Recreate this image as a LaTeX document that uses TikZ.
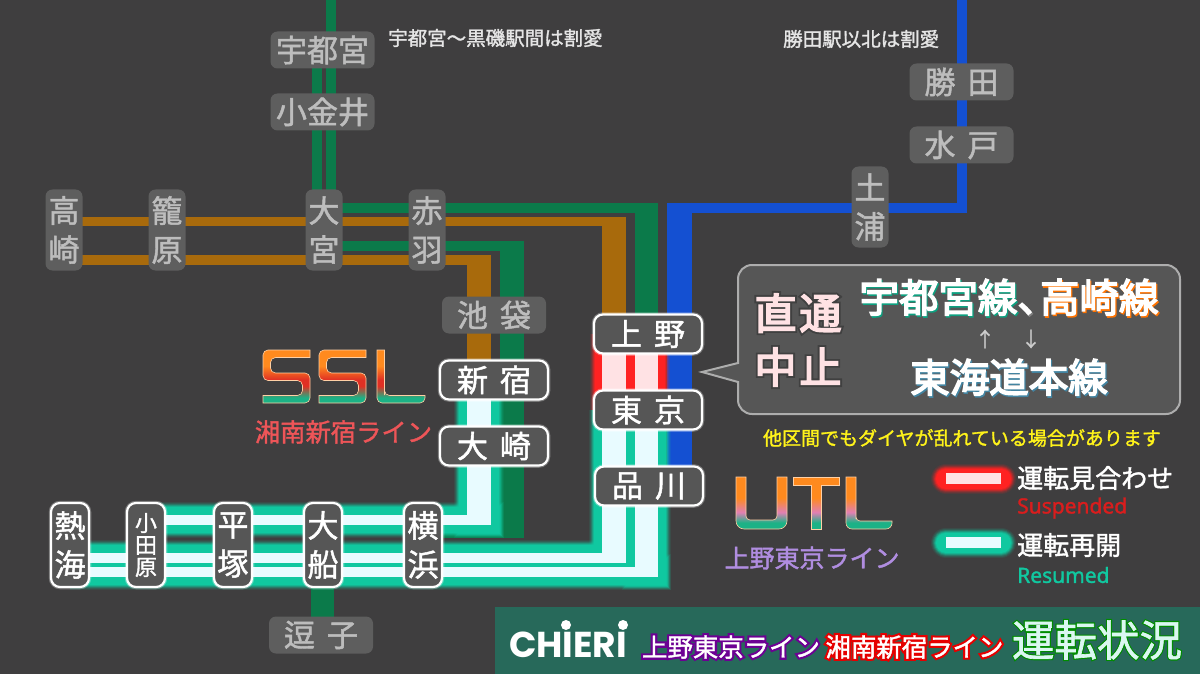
\documentclass[tikz,border=0pt]{standalone}
\usepackage{fontspec}
\setmainfont{Noto Sans CJK JP}[FakeBold=1.5]
\newfontfamily\headfont{Noto Sans CJK JP}[FakeBold=4]
\newfontfamily\latinfont{Noto Sans}[FakeBold=1.5]
\newfontfamily\logofont{Poppins}
\usetikzlibrary{calc}

\definecolor{bgdark}{HTML}{3F3E3F}
\definecolor{banner}{HTML}{27695A}
\definecolor{greenline}{HTML}{0B7A4A}
\definecolor{orangeline}{HTML}{A86A0C}
\definecolor{blueline}{HTML}{1450D2}
\definecolor{tealglow}{HTML}{10C8A0}
\definecolor{palecyan}{HTML}{E8FBFF}
\definecolor{redglow}{HTML}{FF2222}
\definecolor{palepink}{HTML}{FFE2E4}
\definecolor{stationon}{HTML}{565656}
\definecolor{stationoff}{HTML}{5E5E5E}
\definecolor{stationtext}{HTML}{BDBDBD}
\definecolor{logoorange}{HTML}{FF8A1E}
\definecolor{logored}{HTML}{E03024}
\definecolor{logogreen}{HTML}{1CB286}
\definecolor{logopink}{HTML}{E080B4}
\definecolor{sslcaption}{HTML}{EE5558}
\definecolor{utlcaption}{HTML}{B08DE0}

\pgfdeclarelayer{track}
\pgfsetlayers{track,main}

\pgfdeclareverticalshading{sslshade}{100bp}{
	color(0bp)=(logogreen); color(30bp)=(logogreen); color(41bp)=(logored); color(47bp)=(logored);
	color(60bp)=(logoorange); color(100bp)=(logoorange)}
\pgfdeclareverticalshading{utlshade}{100bp}{
	color(0bp)=(logogreen); color(31bp)=(logogreen); color(41bp)=(logopink);
	color(55bp)=(logoorange); color(100bp)=(logoorange)}

\tikzset{
	offstation/.style = {rectangle, fill = stationoff, text = stationtext, rounded corners = 7pt, inner sep = 0pt},
	onstation/.style = {rectangle, fill = stationon, text = white, draw = white, line width = 2.2pt, rounded corners = 9pt, inner sep = 0pt,
		preaction = {draw = white, opacity = 0.3, line width = 4.5pt}},
	widestop/.style = {minimum width = 104pt, minimum height = 37pt, font = \fontsize{31}{31}\selectfont},
	tallstop/.style = {minimum width = 37pt, minimum height = 81pt, align = center, font = \fontsize{31}{39}\selectfont},
	wideon/.style = {minimum width = 108pt, minimum height = 39pt, font = \fontsize{31}{31}\selectfont},
	tallon/.style = {minimum width = 38pt, minimum height = 84pt, align = center, font = \fontsize{31}{39}\selectfont},
	label/.style = {inner sep = 0pt, font = \fontsize{#1}{#1}\selectfont},
	ssllogo/.style = {shade, shading = sslshade, draw = white!60!logoorange, line width = 0.6pt},
	utllogo/.style = {shade, shading = utlshade, draw = white!60!logoorange, line width = 0.6pt},
}

% style, grow, start, corner, end, hwidth, vwidth, side
\newcommand{\bentline}[8]{
	\draw[#1, line width = #6pt + #2pt] (#3 |- #4) -- ([xshift = #7pt/2 + #2pt/2]#4);
	\draw[#1, line width = #7pt + #2pt] ([yshift = #8*(#6pt + #2pt)/2]#4) -- (#4 |- #5);
}
\newcommand{\glowbent}[7]{
	\foreach \gw/\go in {26/0.1, 24/0.15, 22/0.25, 20/0.4, 18/0.6, 16/1} {
		\bentline{#1, opacity = \go}{\gw}{#2}{#3}{#4}{#5}{#6}{#7}
	}
}
\newcommand{\dropsh}[2]{\leavevmode\rlap{\hspace{1.2pt}\raisebox{-1.6pt}{\textcolor{#1}{#2}}}#2}
\newcommand{\halo}[3]{\leavevmode\rlap{\fontspec{Noto Sans CJK JP}[FakeBold=#2]\textcolor{#1}{#3}}#3}

\begin{document}
\begin{tikzpicture}[x = 1pt, y = -1pt]

\useasboundingbox (0,0) rectangle (1200,674);

% stations out of service
\node[offstation, widestop] (utsunomiya) at (322.5, 50) {宇都宮};
\node[offstation, widestop] (koganei) at (322.5, 112) {小金井};
\node[offstation, tallstop] (takasaki) at (64, 230) {高\\崎};
\node[offstation, tallstop] (kagohara) at (167, 230) {籠\\原};
\node[offstation, tallstop] (omiya) at (324, 230) {大\\宮};
\node[offstation, tallstop] (akabane) at (427, 230) {赤\\羽};
\node[offstation, widestop] (ikebukuro) at (494, 315) {池\hspace{12pt}袋};
\node[offstation, widestop] (zushi) at (321, 635) {逗\hspace{12pt}子};
\node[offstation, widestop] (katsuta) at (961.5, 82) {勝\hspace{12pt}田};
\node[offstation, widestop] (mito) at (961.5, 145) {水\hspace{12pt}戸};
\node[offstation, tallstop] (tsuchiura) at (870, 207) {土\\浦};

% stations in service
\node[onstation, wideon] (shinjuku) at (494, 380) {新\hspace{12pt}宿};
\node[onstation, wideon] (osaki) at (494, 446) {大\hspace{12pt}崎};
\node[onstation, wideon] (ueno) at (648, 334) {上\hspace{12pt}野};
\node[onstation, wideon] (tokyo) at (648, 410) {東\hspace{12pt}京};
\node[onstation, wideon] (shinagawa) at (649, 486) {品\hspace{12pt}川};
\node[onstation, tallon] (atami) at (70, 545) {熱\\海};
\node[onstation, tallon, font = \fontsize{22}{22}\selectfont] (odawara) at (146, 545) {小\\田\\原};
\node[onstation, tallon] (hiratsuka) at (233, 545) {平\\塚};
\node[onstation, tallon] (ofuna) at (323, 545) {大\\船};
\node[onstation, tallon] (yokohama) at (423, 545) {横\\浜};

\coordinate (utsutop) at (331, 0);
\coordinate (utsutwo) at (317, 50);
\coordinate (bluetop) at (962, 0);
\coordinate (bluebend) at (962, 207.5);
\coordinate (bluedown) at (679.5, 207.5);
\coordinate (greenhigh) at (646.5, 208);
\coordinate (orangehigh) at (614, 221.5);
\coordinate (greenlow) at (512, 246);
\coordinate (greenfoot) at (512, 533);
\coordinate (orangelow) at (479, 260);
\coordinate (sslbend) at (479, 520);
\coordinate (utlbend) at (614, 558);
\coordinate (tkdbend) at (646.5, 572);
\coordinate (legsusa) at (946, 478.5);
\coordinate (legsusb) at (1001, 478.5);
\coordinate (legresa) at (946, 542.5);
\coordinate (legresb) at (1001, 542.5);

\begin{pgfonlayer}{track}
\fill[bgdark] (0,0) rectangle (1200,674);
\fill[banner] (495,607) rectangle (1200,674);

\draw[greenline, line width = 10pt] (utsutop) -- (utsutop |- omiya);
\draw[greenline, line width = 10pt] (utsutwo) -- (utsutwo |- omiya);
\draw[greenline, line width = 23pt] ([xshift = -0.5pt]ofuna.center) -- ([xshift = 1.5pt]zushi.center);

\draw[blueline, line width = 10pt] (bluetop) -- ([yshift = -5pt]bluebend);
\bentline{blueline}{0}{bluebend}{bluedown}{shinagawa}{10}{25}{1}
\draw[blueline, line width = 10pt] (bluebend) ++(5,0) -- (bluebend);

\bentline{greenline}{0}{omiya}{greenhigh}{ueno}{10}{23}{1}
\bentline{orangeline}{0}{takasaki}{orangehigh}{ueno}{9.5}{24}{1}
\bentline{greenline}{0}{omiya}{greenlow}{greenfoot}{10}{24}{1}
\bentline{greenline}{0}{yokohama}{greenfoot}{greenlow}{10}{24}{-1}
\bentline{orangeline}{0}{takasaki}{orangelow}{shinjuku}{10}{24}{1}

% suspended section
\foreach \gw/\go in {24/0.1, 22/0.15, 20/0.25, 18/0.4, 16/0.6, 14/1} {
	\draw[redglow, opacity = \go, line width = 24pt + \gw pt] ([xshift = -34pt]ueno.center) -- ([xshift = -34pt]tokyo.center);
	\draw[redglow, opacity = \go, line width = 23pt + \gw pt] ([xshift = -1.5pt]ueno.center) -- ([xshift = -1.5pt]tokyo.center);
}
\draw[palepink, line width = 24pt] ([xshift = -34pt]ueno.center) -- ([xshift = -34pt]tokyo.center);
\draw[palepink, line width = 23pt] ([xshift = -1.5pt]ueno.center) -- ([xshift = -1.5pt]tokyo.center);

% resumed sections
\glowbent{tealglow}{odawara}{sslbend}{shinjuku}{10}{24}{-1}
\glowbent{tealglow}{atami}{utlbend}{tokyo}{10}{24}{-1}
\glowbent{tealglow}{atami}{tkdbend}{tokyo}{10}{23}{-1}
\bentline{palecyan}{0}{odawara}{sslbend}{shinjuku}{10}{24}{-1}
\bentline{palecyan}{0}{atami}{utlbend}{tokyo}{10}{24}{-1}
\bentline{palecyan}{0}{atami}{tkdbend}{tokyo}{10}{23}{-1}
\end{pgfonlayer}

% legend
\foreach \gw/\go in {30/0.1, 28/0.15, 26/0.25, 24/0.4, 22/0.6, 20/1} {
	\draw[redglow, opacity = \go, line cap = round, line width = \gw pt] (legsusa) -- (legsusb);
	\draw[tealglow, opacity = \go, line cap = round, line width = \gw pt] (legresa) -- (legresb);
}
\draw[palepink, line width = 11pt] (legsusa) -- (legsusb);
\draw[palecyan, line width = 11pt] (legresa) -- (legresb);
\node[label = 26, anchor = west, text = white] (legsus) at (1017, 478) {運転見合わせ};
\node[label = 21, anchor = west, text = redglow!85!black] (legsusen) at (1017, 508) {\latinfont Suspended};
\node[label = 26, anchor = west, text = white] (legres) at (1017, 545) {運転再開};
\node[label = 21, anchor = west, text = tealglow] (legresen) at (1017, 575) {\latinfont Resumed};

% notes
\node[label = 19.5, anchor = west, text = white!90!black] (noteuts) at (388, 38) {宇都宮〜黒磯駅間は割愛};
\node[label = 19.5, anchor = west, text = white!90!black] (notekat) at (783, 39) {勝田駅以北は割愛};

% balloon
\draw[fill = stationon, draw = white!68!black, line width = 2pt] (738,382) [rounded corners = 14pt] -- (738,414) -- (1180,414) -- (1180,265) -- (738,265) [sharp corners] -- (738,363) -- (702,372) -- cycle;
\node[anchor = center, align = center, inner sep = 0pt, text = palepink, font = \fontsize{42}{54}\selectfont\headfont] (halt) at (798, 340)
	{\halo{black!75}{13}{直\hspace{3pt}通}\\\halo{black!75}{13}{中\hspace{3pt}止}};
\node[anchor = center, inner sep = 0pt, text = white, font = \fontsize{39.5}{39.5}\selectfont\headfont] (linesup) at (1009, 298)
	{\dropsh{tealglow!80!black}{宇都宮線}\dropsh{black!50}{、}\hspace{-17pt}\dropsh{orange!90!red}{高崎線}};
\node[label = 20, text = white!80!black] (arrowup) at (985, 339) {↑};
\node[label = 20, text = white!80!black] (arrowdown) at (1031, 339) {↓};
\node[inner sep = 0pt, text = white, font = \fontsize{39.5}{39.5}\selectfont\headfont] (linesdown) at (1009, 378) {\dropsh{cyan!60!black}{東海道本線}};
\node[label = 19, text = yellow!90!white] (warning) at (962, 438) {他区間でもダイヤが乱れている場合があります};

% line logos
\begin{scope}[shift = {(263,350)}]
\foreach \sx in {0, 56} {
	\path[ssllogo, xshift = \sx pt] (47,0) [rounded corners = 5pt] -- (0,0) -- (0,30.5) -- (39.5,30.5) -- (39.5,45.5) [sharp corners] -- (0,45.5) -- (0,53) [rounded corners = 5pt] -- (47,53) -- (47,23) -- (7.5,23) -- (7.5,7.5) [sharp corners] -- (47,7.5) -- cycle;
}
\path[ssllogo] (114,0) [rounded corners = 5pt] -- (114,53) -- (162,53) [sharp corners] -- (162,45.5) [rounded corners = 5pt] -- (121.5,45.5) -- (121.5,40) [sharp corners] -- (121.5,0) -- cycle;
\end{scope}
\node[label = 25.3, text = sslcaption] (ssltext) at (343.5, 432) {湘南新宿ライン};

\begin{scope}[shift = {(736,477)}]
\path[utllogo] (0,0) [rounded corners = 8pt] -- (0,52) -- (51,52) [sharp corners] -- (51,0) -- (41,0) [rounded corners = 4pt] -- (41,43) -- (10,43) [sharp corners] -- (10,0) -- cycle;
\path[utllogo] (57,0) -- (103,0) -- (103,8) -- (85,8) -- (85,52) -- (75,52) -- (75,8) -- (57,8) -- cycle;
\path[utllogo] (110,0) [rounded corners = 6pt] -- (110,52) -- (156,52) [sharp corners] -- (156,44) [rounded corners = 4pt] -- (120,44) -- (120,38) [sharp corners] -- (120,0) -- cycle;
\end{scope}
\node[label = 25, text = utlcaption] (utltext) at (812, 558) {上野東京ライン};

% banner
\node[label = 36, text = white] (chieri) at (568, 645) {\logofont\bfseries CHIERI};
\fill[white] (566,625) circle (5) (623,625) circle (5);
\node[label = 25.4, text = white] (bannerutl) at (731, 647) {\halo{violet!85!blue}{18}{上野東京ライン}};
\node[label = 25.4, text = white] (bannerssl) at (914.5, 647) {\halo{red!90!black}{18}{湘南新宿ライン}};
\node[label = 42.5, text = white!85!tealglow] (bannertitle) at (1097, 640) {\halo{green!55!black}{7}{運転状況}};

\end{tikzpicture}
\end{document}
